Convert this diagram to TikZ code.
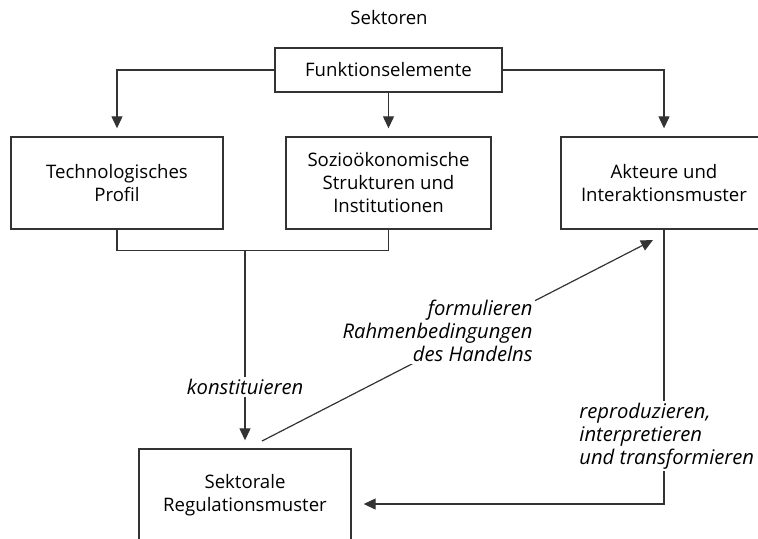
\documentclass[tikz,border=0pt]{standalone}
\usepackage{fontspec}
\setmainfont{Open Sans}
\usetikzlibrary{arrows.meta}

\begin{document}
\begin{tikzpicture}[x=0.5pt, y=-0.5pt,
  font=\fontsize{9.3}{11.5}\selectfont,
  box/.style={draw=black!80, line width=0.7pt, minimum width=106pt, minimum height=46pt, align=center, inner sep=2pt},
  link/.style={draw=black!80, line width=0.6pt},
  arr/.style={link, -{Triangle[width=5.5pt, length=6pt]}},
  lbl/.style={font=\fontsize{10.1}{11.5}\selectfont\itshape, fill=white, inner sep=1pt}]
\useasboundingbox (0,0) rectangle (758,538);

% Kopf
\node (sek) at (389,18) {Sektoren};
\node[box, minimum width=113.5pt, minimum height=22pt] (fkt) at (388.5,70) {Funktionselemente};

% mittlere Reihe
\node[box] (tech) at (117,183) {Technologisches\\Profil};
\node[box, minimum width=102.5pt] (sozio) at (388.5,183) {Sozioökonomische\\Strukturen und\\Institutionen};
\node[box, minimum width=103pt] (akt) at (664,183) {Akteure und\\Interaktionsmuster};

% unten
\node[box] (reg) at (245,495) {Sektorale\\Regulationsmuster};

\draw[arr, shorten >=4pt] (fkt.west) -| (tech.north);
\draw[arr, shorten >=4pt] (fkt.south) -- (sozio.north);
\draw[arr, shorten >=4pt] (fkt.east) -| (akt.north);

\coordinate (join) at (245,250);
\draw[link] (tech.south) -- ++(0,21) -| (sozio.south);
\draw[arr, shorten >=4pt] (join) -- (reg.north);
\node[lbl] (kon) at (245,387) {konstituieren};

\coordinate (f1) at (262,441);
\coordinate (f2) at (653,240);
\draw[arr] (f1) -- (f2);
\node[lbl, align=right, anchor=east] (frm) at (535,331) {formulieren\\Rahmenbedingungen\\des Handelns};

\draw[arr, shorten >=6pt] (akt.south) |- ([yshift=-4.5pt]reg.east);
\node[lbl, align=left, anchor=west] (rep) at (577,436) {reproduzieren,\\interpretieren\\und transformieren};
\end{tikzpicture}
\end{document}
